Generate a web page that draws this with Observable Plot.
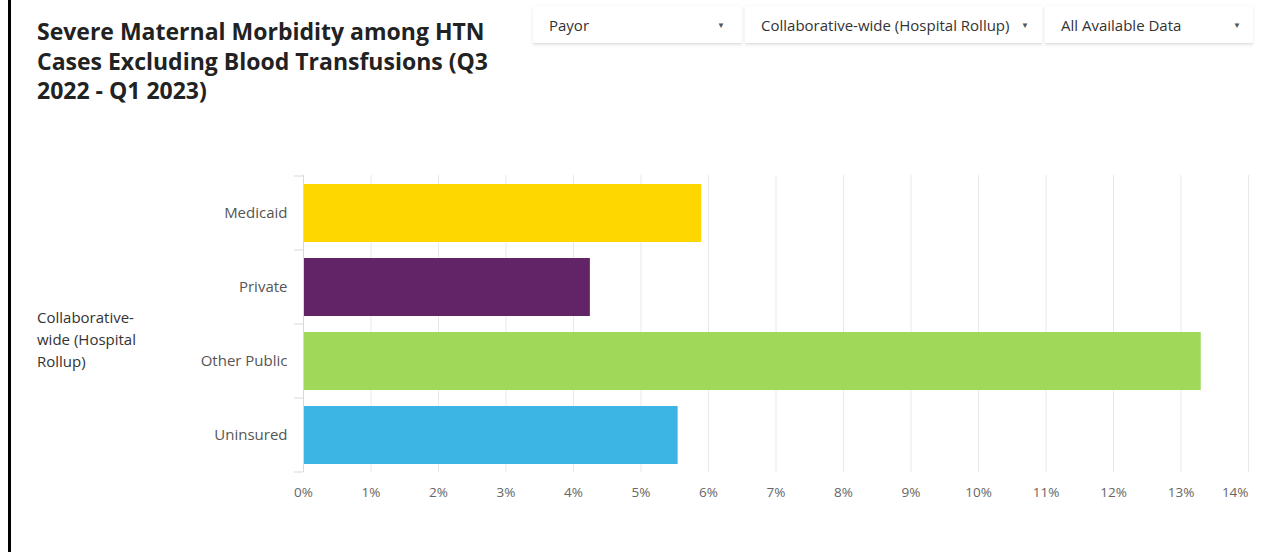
<!DOCTYPE html>
<html>
<head>
<meta charset="utf-8">
<script src="https://cdn.jsdelivr.net/npm/d3@7"></script>
<script src="https://cdn.jsdelivr.net/npm/@observablehq/plot@0.6"></script>
<style>
  html, body { margin: 0; padding: 0; }
  body { width: 1285px; height: 552px; background: #fff; font-family: "Open Sans", sans-serif; position: relative; overflow: hidden; }
  .border { position: absolute; left: 8px; top: 0; width: 3px; height: 552px; background: #000; }
  .title { position: absolute; left: 37px; top: 17px; font-size: 23px; font-weight: 700; line-height: 29.5px; color: #222; white-space: nowrap; }
  .dd { position: absolute; top: 6px; height: 38px; line-height: 38px; background: #fff; box-shadow: 0 1px 3px rgba(0,0,0,0.10); border-bottom: 1px solid #e2e2e2; font-size: 15px; color: #333; box-sizing: border-box; padding-left: 16px; white-space: nowrap; }
  .dd .caret { position: absolute; top: 0; font-size: 8px; color: #555; }
  .group { position: absolute; left: 37px; top: 306px; font-size: 15px; line-height: 22px; color: #333; }
  #chart { position: absolute; left: 0; top: 140px; }
</style>
</head>
<body>
<div class="border"></div>
<div class="title">Severe Maternal Morbidity among HTN<br>Cases Excluding Blood Transfusions (Q3<br>2022 - Q1 2023)</div>
<div class="dd" style="left:533px;width:209px;">Payor<span class="caret" style="right:17px;">▼</span></div>
<div class="dd" style="left:745px;width:297px;">Collaborative-wide (Hospital Rollup)<span class="caret" style="right:13px;">▼</span></div>
<div class="dd" style="left:1045px;width:208px;">All Available Data<span class="caret" style="right:12px;">▼</span></div>
<div class="group">Collaborative-<br>wide (Hospital<br>Rollup)</div>
<div id="chart"></div>
<script>
const categories = ["Medicaid", "Private", "Other Public", "Uninsured"];
const values = [5.9, 4.25, 13.3, 5.55];
const colors = ["#FFD700", "#622467", "#A0D95A", "#3CB4E4"];
const xTicks = [0, 1, 2, 3, 4, 5, 6, 7, 8, 9, 10, 11, 12, 13, 14];

const data = categories.map((c, i) => ({category: c, value: values[i]}));

function bandTicks(index, scales, vals, dims) {
  const y = scales.y;
  const top = dims.marginTop, bottom = dims.height - dims.marginBottom;
  let bounds;
  try {
    const step = typeof y.step === "function" ? y.step() : (bottom - top) / categories.length;
    bounds = categories.map(c => y(c)).concat([y(categories[categories.length - 1]) + step]);
  } catch (e) {
    bounds = d3.range(categories.length + 1).map(i => top + i * (bottom - top) / categories.length);
  }
  const g = d3.create("svg:g");
  const x0 = dims.marginLeft;
  for (const b of bounds) {
    g.append("line").attr("x1", x0 - 9).attr("x2", x0).attr("y1", b).attr("y2", b)
      .attr("stroke", "#d9d9d9").attr("stroke-width", 1);
  }
  return g.node();
}

const chart = Plot.plot({
  width: 1285,
  height: 400,
  marginLeft: 303,
  marginRight: 37,
  marginTop: 35,
  marginBottom: 68,
  style: {fontFamily: "Open Sans, sans-serif", background: "transparent"},
  x: {domain: [0, 14], label: null},
  y: {domain: categories, padding: 0, label: null},
  color: {domain: categories, range: colors},
  marks: [
    Plot.gridX(xTicks, {stroke: "#e8e8e8", strokeOpacity: 1}),
    Plot.barX(data, {y: "category", x: "value", fill: "category", insetTop: 8, insetBottom: 8}),
    Plot.ruleX([0], {stroke: "#d9d9d9"}),
    bandTicks,
    Plot.axisY({tickSize: 0, tickPadding: 16, fontSize: 15, color: "#555", label: null}),
    Plot.axisX(xTicks.slice(0, -1), {tickSize: 0, tickPadding: 15, fontSize: 13.5, color: "#666", tickFormat: d => d + "%", label: null}),
    Plot.axisX(xTicks.slice(-1), {tickSize: 0, tickPadding: 15, fontSize: 13.5, color: "#666", tickFormat: d => d + "%", textAnchor: "end", label: null})
  ]
});
document.getElementById("chart").appendChild(chart);
</script>
</body>
</html>
